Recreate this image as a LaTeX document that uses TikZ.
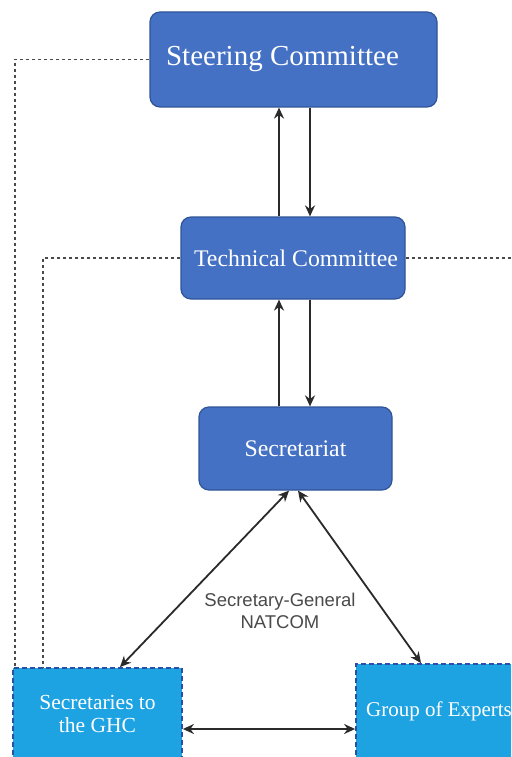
\documentclass[tikz,border=0pt]{standalone}
\usepackage{fontspec}
\setmainfont{Liberation Serif}
\newfontfamily\lsans{Liberation Sans}
\usetikzlibrary{arrows.meta}
\definecolor{darkbox}{HTML}{4471C4}
\definecolor{darkedge}{HTML}{2F5597}
\definecolor{lightbox}{HTML}{1EA3E2}
\definecolor{lightedge}{HTML}{2B4FA3}
\definecolor{dashgray}{HTML}{4A4A4A}
\definecolor{arrowgray}{HTML}{2A2A2A}
\tikzset{
  darknode/.style={draw=darkedge, line width=1.2pt, fill=darkbox, rounded corners=10pt, text=white, inner sep=0pt, align=center},
  lightnode/.style={draw=lightedge, line width=1.8pt, dash pattern=on 5pt off 3pt, fill=lightbox, text=white, inner sep=0pt, align=center},
  dotline/.style={draw=dashgray, line width=1.8pt, dash pattern=on 3pt off 3pt},
  conn/.style={draw=arrowgray, line width=1.8pt, -{Stealth[length=11pt,width=10pt]}},
  dconn/.style={draw=arrowgray, line width=1.8pt, {Stealth[length=11pt,width=10pt]}-{Stealth[length=11pt,width=10pt]}}
}
\begin{document}
\begin{tikzpicture}[x=1pt,y=-1pt]
\path[use as bounding box, clip] (0,0) rectangle (511,757);
\fill[white] (0,0) rectangle (511,757);

\node[darknode, minimum width=287pt, minimum height=95pt, font=\fontsize{29}{32}\selectfont] (steer) at (293.5,59.5) {\hspace*{-22pt}\raisebox{3pt}{Steering Committee}};
\node[darknode, minimum width=224pt, minimum height=82pt, font=\fontsize{23.8}{26}\selectfont] (tech) at (293,258) {\hspace*{6pt}Technical Committee};
\node[darknode, minimum width=193pt, minimum height=83pt, font=\fontsize{23.8}{26}\selectfont] (sec) at (295.5,448.5) {Secretariat};
\node[lightnode, minimum width=169pt, minimum height=92pt, font=\fontsize{21.5}{23}\selectfont] (ghc) at (97.5,714) {Secretaries to\\the GHC};
\node[lightnode, minimum width=166pt, minimum height=94pt, font=\fontsize{21}{23}\selectfont] (experts) at (439,711) {Group of Experts};

\node[font=\lsans\fontsize{18.5}{22}\selectfont, text=arrowgray!85, align=center, inner sep=0pt] (lbl) at (280,611) {Secretary-General\\NATCOM};

% dashed connectors
\coordinate (outerEnd) at (15,668);
\coordinate (innerEnd) at (43,668);
\coordinate (rightEnd) at (511,258);
\draw[dotline] (steer.west) -| (outerEnd);
\draw[dotline] (tech.west) -| (innerEnd);
\draw[dotline] (tech.east) -- (rightEnd);

% vertical arrows
\coordinate (xa) at (279,0);
\coordinate (xb) at (310,0);
\draw[conn] (tech.north -| xa) -- (steer.south -| xa);
\draw[conn] (steer.south -| xb) -- (tech.north -| xb);
\draw[conn] (sec.north -| xa) -- (tech.south -| xa);
\draw[conn] (tech.south -| xb) -- (sec.north -| xb);

% diagonal arrows
\coordinate (xl) at (289,0);
\coordinate (xr) at (298,0);
\coordinate (gl) at (120,0);
\coordinate (gr) at (421,0);
\draw[dconn] (sec.south -| xl) -- (ghc.north -| gl);
\draw[dconn] (sec.south -| xr) -- (experts.north -| gr);

% horizontal arrow
\coordinate (hy) at (0,729);
\draw[dconn] (ghc.east |- hy) -- (experts.west |- hy);
\end{tikzpicture}
\end{document}
